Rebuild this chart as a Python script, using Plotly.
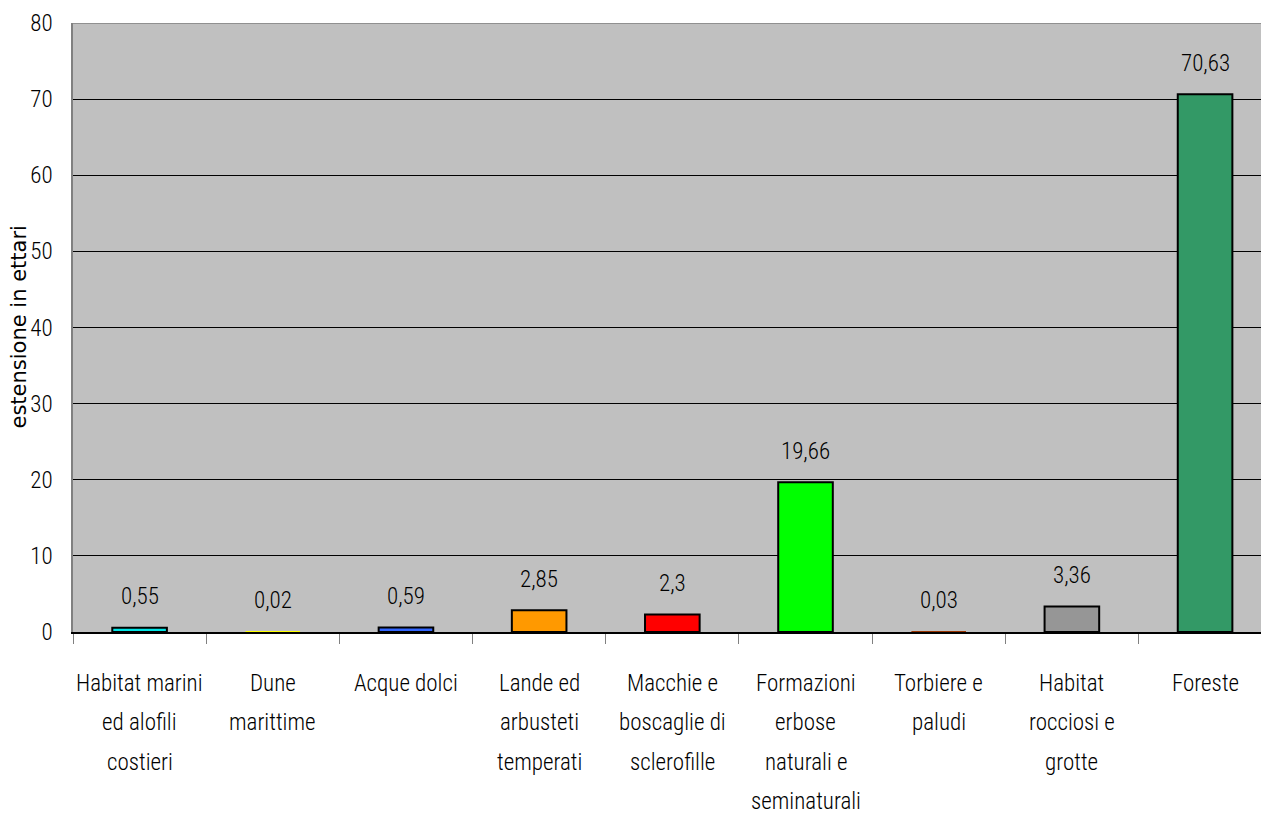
import plotly.graph_objects as go

categories = [
    ["Habitat marini", "ed alofili", "costieri"],
    ["Dune", "marittime"],
    ["Acque dolci"],
    ["Lande ed", "arbusteti", "temperati"],
    ["Macchie e", "boscaglie di", "sclerofille"],
    ["Formazioni", "erbose", "naturali e", "seminaturali"],
    ["Torbiere e", "paludi"],
    ["Habitat", "rocciosi e", "grotte"],
    ["Foreste"],
]
values = [0.55, 0.02, 0.59, 2.85, 2.3, 19.66, 0.03, 3.36, 70.63]
value_labels = ["0,55", "0,02", "0,59", "2,85", "2,3", "19,66", "0,03", "3,36", "70,63"]
colors = ["#00E5E5", "#FFFF00", "#3366FF", "#FF9900", "#FF0000", "#00FF00",
          "#993300", "#969696", "#339966"]
outline_widths = [2, 0, 2, 2, 2, 2, 0, 2, 2]
y_ticks = [0, 10, 20, 30, 40, 50, 60, 70, 80]
y_title = "estensione in ettari"

FONT = "Roboto Condensed, Liberation Sans Narrow, Arial Narrow, Liberation Sans, sans-serif"
xs = list(range(len(values)))

fig = go.Figure()
fig.add_trace(go.Bar(
    x=xs, y=values, width=0.41,
    marker=dict(color=colors, line=dict(color="black", width=outline_widths)),
    hoverinfo="skip",
))

lab_font = dict(family=FONT, size=23, color="black", weight=350)
annotations = []
for i, (v, lab) in enumerate(zip(values, value_labels)):
    annotations.append(dict(x=i, y=v, xref="x", yref="y", text=lab, showarrow=False,
                            yanchor="middle", yshift=31, font=lab_font))
for i, lines in enumerate(categories):
    for k, line in enumerate(lines):
        annotations.append(dict(x=i, y=0, xref="x", yref="paper", text=line, showarrow=False,
                                yanchor="middle", yshift=-51 - 39.5 * k, font=lab_font))
annotations.append(dict(x=0, y=0.5, xref="paper", yref="paper", text=y_title, showarrow=False,
                        textangle=-90, xanchor="center", yanchor="middle", xshift=-55,
                        font=dict(family="DejaVu Sans, Verdana, sans-serif", size=21, color="black")))

fig.update_layout(
    width=1261, height=815,
    margin=dict(l=73, r=0, t=23, b=183),
    paper_bgcolor="white", plot_bgcolor="#C0C0C0",
    showlegend=False,
    annotations=annotations,
    xaxis=dict(range=[-0.5, 8.42], tickvals=[x - 0.5 for x in range(10)],
               ticktext=[""] * 10, ticks="outside", ticklen=10, tickcolor="#808080",
               tickwidth=1, showgrid=False, zeroline=False,
               showline=True, linecolor="black", linewidth=1.5),
    yaxis=dict(range=[0, 80], tickvals=y_ticks, ticktext=[str(t) for t in y_ticks],
               showgrid=True, gridcolor="black", gridwidth=1, zeroline=False,
               showline=True, linecolor="#808080", linewidth=1.5, ticks="",
               ticklabelstandoff=14, tickfont=lab_font),
    shapes=[dict(type="line", xref="paper", yref="y", x0=0, x1=1, y0=80, y1=80,
                 line=dict(color="#808080", width=1.5), layer="above")],
)

fig.write_html("out.html")
